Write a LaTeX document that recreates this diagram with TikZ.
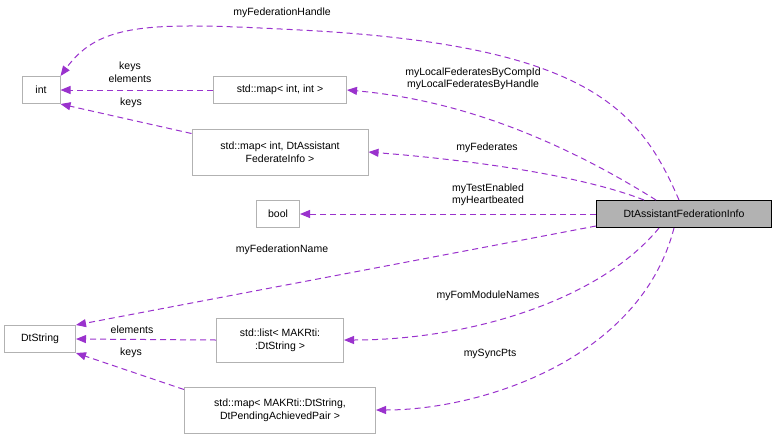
\documentclass[tikz,border=0pt]{standalone}
\usepackage{fontspec}
\setmainfont{Liberation Sans}
\usetikzlibrary{arrows.meta}
\definecolor{edgecol}{HTML}{9A32CD}
\tikzset{
  cls/.style={draw=black!30, line width=1pt, fill=white, minimum height=27pt, inner xsep=6pt, align=center, font=\fontsize{10.5}{13}\selectfont},
  main/.style={cls, draw=black, fill=black!30},
  rel/.style={draw=edgecol, line width=1pt, dash pattern=on 6pt off 4pt, -{Triangle[length=10pt,width=8pt]}},
  lbl/.style={font=\fontsize{10.5}{12.5}\selectfont, align=center, inner sep=1pt}
}
\begin{document}
\begin{tikzpicture}[x=1pt,y=-1pt]
    \useasboundingbox (0,0) rectangle (779,437);

    % Classes
    \node [cls, minimum width=38pt] (int) at (41,90) {int};
    \node [cls, minimum width=133pt] (mapii) at (280,90) {std::map< int, int >};
    \node [cls, minimum width=176pt, minimum height=46pt] (mapfed) at (280,152) {std::map< int, DtAssistant\\FederateInfo >};
    \node [cls, minimum width=43pt] (bool) at (278,214) {bool};
    \node [main, minimum width=175pt] (info) at (684,214) {DtAssistantFederationInfo};
    \node [cls, minimum width=71pt] (dtstr) at (40,339) {DtString};
    \node [cls, minimum width=127pt, minimum height=44pt] (list) at (280,340) {std::list< MAKRti:\\:DtString >};
    \node [cls, minimum width=191pt, minimum height=46pt] (mappend) at (280,410) {std::map< MAKRti::DtString,\\DtPendingAchievedPair >};

    % Members
    \draw [rel] (info.north) ++(-5,0) .. controls (640,110) and (590,45) .. (300,30) .. controls (150,22) and (100,22) .. (int.north east);
    \draw [rel] (info.north) ++(-28,0) .. controls (560,140) and (460,100) .. (mapii.east);
    \draw [rel] (info.north) ++(-40,0) .. controls (580,175) and (470,160) .. (mapfed.east);
    \draw [rel] (info.west) -- (bool.east);
    \draw [rel] (info.west) ++(0,12) -- (dtstr.north east);
    \draw [rel] (info.south) ++(-25,0) .. controls (600,300) and (470,340) .. (list.east);
    \draw [rel] (info.south) ++(-10,0) .. controls (640,360) and (480,410) .. (mappend.east);

    % Container parts
    \draw [rel] (mapii.west) -- (int.east);
    \draw [rel] (mapfed.north west) ++(0,5) -- (int.south east);
    \draw [rel] (list.west) -- (dtstr.east);
    \draw [rel] (mappend.north west) ++(0,3) -- (dtstr.south east);

    % Labels
    \node [lbl] (lhandle) at (282,13) {myFederationHandle};
    \node [lbl] (llocal) at (473,79) {myLocalFederatesByCompId\\myLocalFederatesByHandle};
    \node [lbl] (lfed) at (487,148) {myFederates};
    \node [lbl] (ltest) at (488,195) {myTestEnabled\\myHeartbeated};
    \node [lbl] (lname) at (282,250) {myFederationName};
    \node [lbl] (lfom) at (488,296) {myFomModuleNames};
    \node [lbl] (lsync) at (490,354) {mySyncPts};
    \node [lbl] (lke) at (130,72) {keys\\elements};
    \node [lbl] (lk1) at (131,103) {keys};
    \node [lbl] (lel) at (132,330) {elements};
    \node [lbl] (lk2) at (131,353) {keys};
\end{tikzpicture}
\end{document}
